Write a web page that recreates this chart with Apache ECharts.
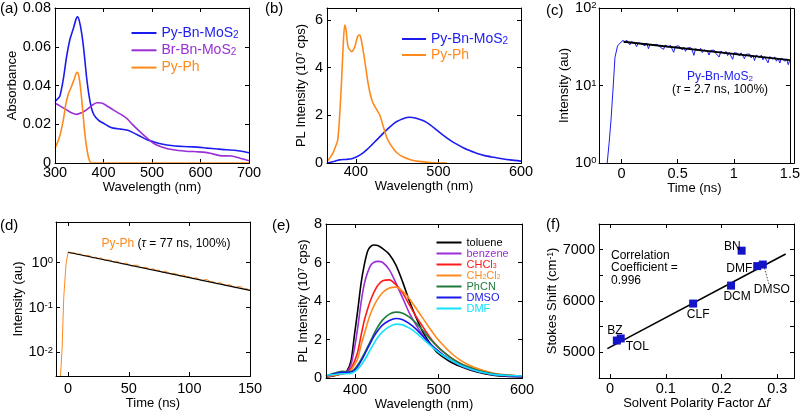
<!DOCTYPE html>
<html><head><meta charset="utf-8">
<script src="https://cdn.jsdelivr.net/npm/echarts@6/dist/echarts.min.js"></script>
<style>html,body{margin:0;padding:0;background:#fff}#c{width:803px;height:413px}</style>
</head><body><div id="c"></div>
<script>
// ---------------- DATA ----------------
// (a) absorbance
const absWlPyBn = [300,305,310,317,324,331,338,343,346,350,355,360,365,370,375,380,390,400,410,420,435,448,460,475,490,503,520,544,565,585,613,635,654,670,685,700];
const absPyBn   = [0.0316,0.033,0.0345,0.043,0.055,0.064,0.0695,0.074,0.0755,0.0735,0.067,0.057,0.0445,0.035,0.0285,0.025,0.022,0.0205,0.019,0.018,0.0175,0.017,0.0158,0.0139,0.012,0.011,0.0098,0.0089,0.0085,0.0083,0.0077,0.0072,0.0068,0.0066,0.0061,0.0053];
const absWlBrBn = [300,310,324,335,345,355,365,375,386,396,405,420,435,448,460,475,490,503,520,544,570,592,610,620,640,664,681,700];
const absBrBn   = [0.0308,0.0295,0.0274,0.0258,0.0251,0.026,0.0274,0.0295,0.0311,0.031,0.0298,0.0274,0.0252,0.023,0.0198,0.0162,0.0128,0.0102,0.0083,0.0068,0.0061,0.0058,0.0055,0.005,0.0038,0.0036,0.0025,0.0012];
const absWlPyPh = [300,305,310,317,322,328,334,340,345,348,351,355,360,365,370,375,700];
const absPyPh   = [0.0076,0.0105,0.014,0.022,0.03,0.036,0.0395,0.0435,0.0468,0.046,0.042,0.033,0.019,0.0084,0.002,0,0];

// (b) PL spectra
const plWlPyPh = [365,372,376,378,380,382.5,385,386.5,388,390.5,394.6,398.7,402,404.7,406,408.7,411.5,414.8,418,420.9,425,429,433,437,441,445,450,457,465,473.6,490,510];
const plPyPh   = [0.05,0.4,0.75,0.96,1.8,3.34,5.2,5.79,5.6,4.88,4.67,4.88,5.3,5.38,5.25,4.74,4.1,3.34,2.8,2.5,2.25,2.0,1.55,1.1,0.82,0.62,0.42,0.26,0.15,0.08,0.02,0];
const plWlPyBn = [365,372,380,388,395,401,407,413,419,425,431,437,443,449,457,465,473,482,490,498,506,514,522,530,538,546,556,567,577,587,600];
const plPyBn   = [0,0.05,0.13,0.15,0.18,0.26,0.38,0.55,0.75,0.96,1.17,1.38,1.57,1.73,1.86,1.92,1.88,1.77,1.6,1.38,1.16,0.96,0.79,0.64,0.52,0.41,0.31,0.24,0.18,0.13,0.08];

// (c) TCSPC Py-Bn-MoS2
const tcTimeC = [-0.135,-0.127,-0.11,-0.093,-0.075,-0.058,-0.035,-0.015,
 0,0.015,0.03,0.045,0.06,0.075,0.09,0.105,0.12,0.135,
 0.15,0.165,0.18,0.195,0.21,0.225,0.24,0.255,0.27,0.285,
 0.3,0.315,0.33,0.345,0.36,0.375,0.39,0.405,0.42,0.435,
 0.45,0.465,0.48,0.495,0.51,0.525,0.54,0.555,0.57,0.585,
 0.6,0.615,0.63,0.645,0.66,0.675,0.69,0.705,0.72,0.735,
 0.75,0.765,0.78,0.795,0.81,0.825,0.84,0.855,0.87,0.885,
 0.9,0.915,0.93,0.945,0.96,0.975,0.99,1.005,1.02,1.035,
 1.05,1.065,1.08,1.095,1.11,1.125,1.14,1.155,1.17,1.185,
 1.2,1.215,1.23,1.245,1.26,1.275,1.29,1.305,1.32,1.335,
 1.35,1.365,1.38,1.395,1.41,1.425,1.44,1.455,1.47,1.485,1.5];
const tcCountC = [0.7,1,1.8,3.6,9,22.9,32.4,35,
 37.0,38.3,35.5,38.6,36.6,33.5,36.9,37.4,34.7,31.7,
 35.7,36.9,34.3,35.5,32.5,35.4,29.8,34.0,35.2,33.3,
 32.1,33.9,35.0,31.3,33.0,29.3,33.3,31.9,31.0,33.1,
 31.9,26.8,31.9,30.5,32.5,30.8,28.8,31.3,27.6,30.4,
 29.6,30.9,28.4,24.5,29.9,29.1,28.1,30.2,26.6,28.8,
 29.2,27.6,24.7,28.4,27.4,28.6,26.0,27.5,23.3,27.7,
 26.8,25.8,27.5,24.3,26.5,25.8,21.8,26.5,25.1,26.0,
 24.1,26.4,25.1,22.2,25.3,23.9,25.5,22.7,24.5,21.0,
 24.7,23.6,22.8,24.7,21.4,23.5,22.7,19.6,23.6,22.8,
 21.8,23.4,20.6,22.5,19.5,22.7,21.7,20.5,22.1,18.6,21.4];
const fitTimeC = [0.02,1.5];
const fitCountC = [36.7,21.2];

// (d) TCSPC Py-Ph
const tcTimeD = [-6.3,-5,-3.6,-1.7,
 0,2.5,5,7.5,10,12.5,15,17.5,20,22.5,25,27.5,30,32.5,35,37.5,40,42.5,45,47.5,50,52.5,55,57.5,60,62.5,65,67.5,70,72.5,75,
 77.5,80,82.5,85,87.5,90,92.5,95,97.5,100,102.5,105,107.5,110,112.5,115,117.5,120,122.5,125,127.5,130,132.5,135,137.5,140,142.5,145,147.5,150];
const tcCountD = [0.003,0.012,0.17,0.95,
 1.717,1.597,1.657,1.527,1.568,1.416,1.441,1.435,1.272,1.320,1.241,1.272,1.128,1.148,1.133,1.014,1.072,0.999,0.929,0.981,0.915,0.834,0.874,0.870,0.772,0.785,0.775,0.693,0.733,0.676,0.674,
 0.602,0.649,0.599,0.557,0.578,0.549,0.496,0.535,0.489,0.487,0.440,0.464,0.438,0.395,0.418,0.416,0.369,0.375,0.336,0.362,0.334,0.308,0.325,0.306,0.274,0.293,0.291,0.255,0.263,0.235];
const fitTimeD = [0,150];
const fitCountD = [1.7,0.242];

// (e) solvent PL spectra
const solvWl = [365,375,385,390,395,399,403,407,411,415,419,423,427,433,441,449,457,465,473,481,489,497,505,515,525,535,545,555,565,580,600];
const plToluene = [0.05,0.12,0.25,0.35,0.9,2.2,3.5,4.9,5.9,6.6,6.85,6.91,6.88,6.72,6.42,5.85,4.98,4.0,3.15,2.4,1.85,1.38,1.1,0.82,0.62,0.45,0.32,0.22,0.15,0.09,0.05];
const plBenzene = [0.08,0.15,0.22,0.3,0.7,1.5,2.6,3.9,4.9,5.5,5.88,6.03,6.06,6.0,5.62,4.92,4.15,3.37,2.76,2.22,1.8,1.47,1.2,0.9,0.68,0.49,0.36,0.27,0.19,0.12,0.07];
const plCHCl3   = [0.08,0.15,0.22,0.28,0.5,0.85,1.35,2.2,3.0,3.6,4.1,4.5,4.8,5.05,5.1,4.84,4.41,3.8,3.19,2.67,2.15,1.72,1.38,1.05,0.78,0.58,0.43,0.31,0.22,0.15,0.1];
const plCH2Cl2  = [0.08,0.15,0.22,0.26,0.4,0.68,1.0,1.7,2.3,2.9,3.4,3.8,4.1,4.44,4.67,4.72,4.5,4.12,3.62,3.11,2.6,2.12,1.73,1.3,0.95,0.7,0.52,0.37,0.26,0.17,0.1];
const plPhCN    = [0.12,0.25,0.35,0.33,0.33,0.45,0.68,0.95,1.28,1.63,1.98,2.33,2.65,3.02,3.32,3.42,3.37,3.16,2.85,2.48,2.07,1.7,1.38,1.05,0.78,0.58,0.43,0.31,0.22,0.15,0.1];
const plDMSO    = [0.1,0.22,0.3,0.3,0.31,0.4,0.6,0.88,1.2,1.55,1.88,2.2,2.46,2.76,2.99,3.09,3.02,2.82,2.54,2.18,1.81,1.5,1.21,0.93,0.69,0.52,0.38,0.27,0.19,0.13,0.08];
const plDMF     = [0.15,0.18,0.22,0.22,0.24,0.32,0.46,0.66,0.92,1.22,1.54,1.84,2.1,2.41,2.67,2.8,2.76,2.59,2.35,2.04,1.73,1.44,1.18,0.92,0.69,0.52,0.38,0.27,0.19,0.14,0.1];

// (f) Lippert–Mataga
const solventCodes = ['BZ','TOL','CLF','DCM','BN','DMF','DMSO'];
const polarityDf   = [0.012,0.019,0.149,0.217,0.236,0.264,0.274];
const stokesShift  = [5230,5270,5950,6300,6980,6680,6710];
const fitDf = [-0.005,0.315];
const fitShift = [5072,6915];
const dmsoLeaderDf = [0.277,0.285];
const dmsoLeaderShift = [6640,6330];

// tick labels
const plTickLabels = [400,500,600];
const timeTicksC = [0,0.5,1,1.5];
const timeTicksD = [0,50,100,150];
const dfTickLabels = [0,0.1,0.2,0.3];
const shiftTickLabels = [5000,6000,7000];
const shiftTicks = [5000,5500,6000,6500,7000];

// ---------------- STYLE ----------------
const FONT = '"Liberation Sans", Arial, Helvetica, sans-serif';
const TICK_FS = 14.5, NAME_FS = 13;
const BLACK = '#000';
const COL = {blue:'#1c1cf0', purple:'#9a2fd6', orange:'#ff8a1c', red:'#ff1a1a', green:'#1e7b3c', cyan:'#12e2fa', dmso:'#1818e8', sq:'#1414c8'};

const grids = [
  {left:55,  top:8,   width:194, height:155},
  {left:327, top:8,   width:194, height:155},
  {left:599, top:8,   width:195, height:155},
  {left:56,  top:222, width:194, height:154},
  {left:326, top:224, width:196, height:154},
  {left:599, top:224, width:195, height:154}
];

const supRich = {sup:{fontSize:9.5, verticalAlign:'top', fontFamily:FONT, color:BLACK}};
const nameRich = {sup:{fontSize:8.5, verticalAlign:'top', fontFamily:FONT, color:BLACK},
                  it:{fontStyle:'italic', fontSize:NAME_FS, fontFamily:FONT, color:BLACK}};
function logFmt(v){
  const e = Math.log10(v);
  if (Math.abs(e - Math.round(e)) > 1e-6) return '';
  return '10{sup|' + Math.round(e) + '}';
}
function plainFmt(v){ return String(v); }

function mkAxis(grid, pos, cfg){
  const labelled = (pos === 'bottom' || pos === 'left');
  const a = {
    show:true, type: cfg.type || 'value', gridIndex: grid, position: pos, min: cfg.min, max: cfg.max,
    axisLine: {show:true, onZero:false, lineStyle:{color:BLACK, width:1}},
    axisTick: {show:true, inside:true, length:4, lineStyle:{color:BLACK, width:1}},
    axisLabel: {show: labelled, color:BLACK, fontFamily:FONT, fontSize:TICK_FS, margin: cfg.margin != null ? cfg.margin : 4,
                formatter: cfg.formatter || plainFmt},
    splitLine: {show:false}, minorTick:{show:false}, axisPointer:{show:false}, silent:true
  };
  if (cfg.logBase) a.logBase = cfg.logBase;
  if (cfg.interval != null) a.interval = cfg.interval;
  if (cfg.ticks) a.axisTick.customValues = cfg.ticks;
  if (cfg.labels) a.axisLabel.customValues = cfg.labels;
  if (cfg.rich) a.axisLabel.rich = cfg.rich;
  if (cfg.hideMax) a.axisLabel.showMaxLabel = false;
  if (labelled && cfg.name){
    a.name = cfg.name; a.nameLocation = 'middle'; a.nameGap = cfg.nameGap;
    a.nameTextStyle = {color:BLACK, fontFamily:FONT, fontSize:NAME_FS, rich:nameRich};
  }
  return a;
}

const xCfg = [
  {min:300, max:700, interval:100, margin:2, name:'Wavelength (nm)', nameGap:13},
  {min:365, max:600, ticks:plTickLabels, labels:plTickLabels, margin:1.5, name:'Wavelength (nm)', nameGap:13},
  {min:-0.2, max:1.5, ticks:timeTicksC, labels:timeTicksC, margin:3, name:'Time (ns)', nameGap:13},
  {min:-10, max:150, ticks:timeTicksD, labels:timeTicksD, margin:5, name:'Time (ns)', nameGap:19},
  {min:365, max:600, ticks:plTickLabels, labels:plTickLabels, margin:4.5, name:'Wavelength (nm)', nameGap:17},
  {min:-0.02, max:0.33, ticks:dfTickLabels, labels:dfTickLabels, margin:3, name:'Solvent Polarity Factor Δ{it|f}', nameGap:16}
];
const yCfg = [
  {min:0, max:0.08, interval:0.02, name:'Absorbance', nameGap:34},
  {min:0, max:6.5, interval:2, hideMax:true, name:'PL Intensity (10{sup|7} cps)', nameGap:19},
  {type:'log', logBase:10, min:1, max:100, formatter:logFmt, rich:supRich, margin:2.5, name:'Intensity (au)', nameGap:26},
  {type:'log', logBase:10, min:0.003, max:8, formatter:logFmt, rich:supRich, margin:3, name:'Intensity (au)', nameGap:31},
  {min:0, max:8, interval:2, name:'PL Intensity (10{sup|7} cps)', nameGap:16},
  {min:4500, max:7500, ticks:shiftTicks, labels:shiftTickLabels, name:'Stokes Shift (cm{sup|-1})', nameGap:36}
];

const xAxis = [], yAxis = [];
for (let g = 0; g < 6; g++){
  xAxis.push(mkAxis(g, 'bottom', xCfg[g]), mkAxis(g, 'top', xCfg[g]));
  yAxis.push(mkAxis(g, 'left', yCfg[g]), mkAxis(g, 'right', yCfg[g]));
}

function zip(xs, ys){ return xs.map((x, i) => [x, ys[i]]); }
function line(name, g, xs, ys, color, width, extra){
  return Object.assign({
    type:'line', name, xAxisIndex:2*g, yAxisIndex:2*g, data: zip(xs, ys),
    showSymbol:false, symbol:'none', smooth:0.25, clip:true, silent:true,
    lineStyle:{color, width}, itemStyle:{color}, emphasis:{disabled:true}, z:3
  }, extra || {});
}

const series = [
  line('a-PyBn', 0, absWlPyBn, absPyBn, COL.blue, 1.6),
  line('a-BrBn', 0, absWlBrBn, absBrBn, COL.purple, 1.6),
  line('a-PyPh', 0, absWlPyPh, absPyPh, COL.orange, 1.6),
  line('b-PyBn', 1, plWlPyBn, plPyBn, COL.blue, 1.6),
  line('b-PyPh', 1, plWlPyPh, plPyPh, COL.orange, 1.6),
  line('c-data', 2, tcTimeC, tcCountC, COL.blue, 1, {smooth:false}),
  line('c-fit', 2, fitTimeC, fitCountC, BLACK, 1.8, {smooth:false, z:4}),
  line('d-data', 3, tcTimeD, tcCountD, COL.orange, 1, {smooth:false}),
  line('d-fit', 3, fitTimeD, fitCountD, BLACK, 1.2, {smooth:false, z:4}),
  line('toluene', 4, solvWl, plToluene, BLACK, 1.6),
  line('benzene', 4, solvWl, plBenzene, COL.purple, 1.6),
  line('CHCl3', 4, solvWl, plCHCl3, COL.red, 1.6),
  line('CH2Cl2', 4, solvWl, plCH2Cl2, COL.orange, 1.6),
  line('PhCN', 4, solvWl, plPhCN, COL.green, 1.6),
  line('DMSO', 4, solvWl, plDMSO, COL.dmso, 1.6),
  line('DMF', 4, solvWl, plDMF, COL.cyan, 1.6),
  line('f-fit', 5, fitDf, fitShift, BLACK, 1.6, {smooth:false}),
  line('f-leader', 5, dmsoLeaderDf, dmsoLeaderShift, '#444', 1, {smooth:false, lineStyle:{color:'#444', width:1, type:[1.5,1.5]}})
];
// empty series so the mirrored top/right axes (ticks + frame) are active
for (let g = 0; g < 6; g++){
  series.push({type:'line', name:'mirror'+g, xAxisIndex:2*g+1, yAxisIndex:2*g+1, data:[], silent:true, symbol:'none'});
}

const labelPlace = {
  BZ:  {position:'top', distance:0, offset:[-2,0]},
  TOL: {position:'right', distance:1, offset:[0,8]},
  CLF: {position:'bottom', distance:1, offset:[5,0]},
  DCM: {position:'bottom', distance:1, offset:[6,0]},
  BN:  {position:'left', distance:-3, offset:[0,-4]},
  DMF: {position:'left', distance:1, offset:[0,3]},
  DMSO:{position:'bottom', distance:1, offset:[9,14]}
};
series.push({
  type:'scatter', name:'f-points', xAxisIndex:10, yAxisIndex:10, symbol:'rect', symbolSize:8, z:5, silent:true,
  itemStyle:{color:COL.sq, opacity:1},
  label:{show:true, formatter:'{b}', color:BLACK, fontFamily:FONT, fontSize:12},
  data: solventCodes.map((c, i) => ({name:c, value:[polarityDf[i], stokesShift[i]], label:labelPlace[c]}))
});

// legends
const legendText = {
  'a-PyBn':'Py-Bn-MoS{sub|2}', 'a-BrBn':'Br-Bn-MoS{sub|2}', 'a-PyPh':'Py-Ph',
  'b-PyBn':'Py-Bn-MoS{sub|2}', 'b-PyPh':'Py-Ph',
  'toluene':'toluene', 'benzene':'benzene', 'CHCl3':'CHCl{sub|3}', 'CH2Cl2':'CH{sub|2}Cl{sub|2}',
  'PhCN':'PhCN', 'DMSO':'DMSO', 'DMF':'DMF'
};
function legItem(name, color, fs){
  return {name, icon:'rect', itemStyle:{color},
    textStyle:{color, fontFamily:FONT, fontSize:fs, lineHeight:fs,
      rich:{sub:{color, fontFamily:FONT, fontSize:Math.round(fs*0.68), verticalAlign:'bottom', lineHeight:fs}}}};
}
function legend(left, top, gap, w, fs, items){
  return {left, top, orient:'vertical', align:'left', padding:0, itemGap:gap, itemWidth:w, itemHeight:2,
    selectedMode:false, formatter:(n) => legendText[n], textStyle:{fontFamily:FONT, fontSize:fs},
    data: items.map(it => legItem(it[0], it[1], fs))};
}
const legends = [
  legend(131.5, 26, 3.3, 25, 14, [['a-PyBn',COL.blue],['a-BrBn',COL.purple],['a-PyPh',COL.orange]]),
  legend(402, 32, 2, 24, 14, [['b-PyBn',COL.blue],['b-PyPh',COL.orange]]),
  legend(436.5, 237, 0, 25, 11, [['toluene',BLACK],['benzene',COL.purple],['CHCl3',COL.red],['CH2Cl2',COL.orange],['PhCN',COL.green],['DMSO',COL.dmso],['DMF',COL.cyan]])
];

function txt(x, y, text, opts){
  return {type:'text', x, y, silent:true, z:10,
    style:Object.assign({text, fontFamily:FONT, fontSize:12, fill:BLACK, align:'left', verticalAlign:'middle'}, opts || {})};
}
// box outline of every panel (MATLAB style), aligned with the crisp axis lines
const frames = grids.map(g => ({type:'rect', silent:true, z:50,
  shape:{x:g.left + 0.5, y:g.top + 0.5, width:g.width, height:g.height},
  style:{fill:'rgba(0,0,0,0)', stroke:BLACK, lineWidth:1}}));
const graphics = frames.concat([
  txt(0, 9, '(a)', {fontSize:15}),
  txt(265, 9, '(b)', {fontSize:15}),
  txt(546, 11, '(c)', {fontSize:15}),
  txt(0, 226, '(d)', {fontSize:15}),
  txt(272, 226, '(e)', {fontSize:15}),
  txt(546, 225, '(f)', {fontSize:15}),
  txt(720, 77, 'Py-Bn-MoS{sub|2}', {align:'center', fill:COL.blue,
     rich:{sub:{fontSize:8, verticalAlign:'bottom', fontFamily:FONT, fill:COL.blue}}}),
  txt(720, 90, '({it|τ} = 2.7 ns, 100%)', {align:'center',
     rich:{it:{fontStyle:'italic', fontSize:12, fontFamily:FONT, fill:BLACK}}}),
  txt(101.5, 244, '{or|Py-Ph} ({it|τ} = 77 ns, 100%)', {
     rich:{or:{fontSize:12, fontFamily:FONT, fill:COL.orange}, it:{fontStyle:'italic', fontSize:12, fontFamily:FONT, fill:BLACK}}}),
  txt(611, 268, 'Correlation\nCoefficient =\n0.996', {lineHeight:12.5})
]);

const chart = echarts.init(document.getElementById('c'), null, {renderer:'canvas', width:803, height:413});
chart.setOption({
  animation:false,
  backgroundColor:'#fff',
  textStyle:{fontFamily:FONT},
  grid: grids.map(g => Object.assign({containLabel:false}, g)),
  xAxis, yAxis, series, legend: legends, graphic: graphics
});
</script>
</body></html>
